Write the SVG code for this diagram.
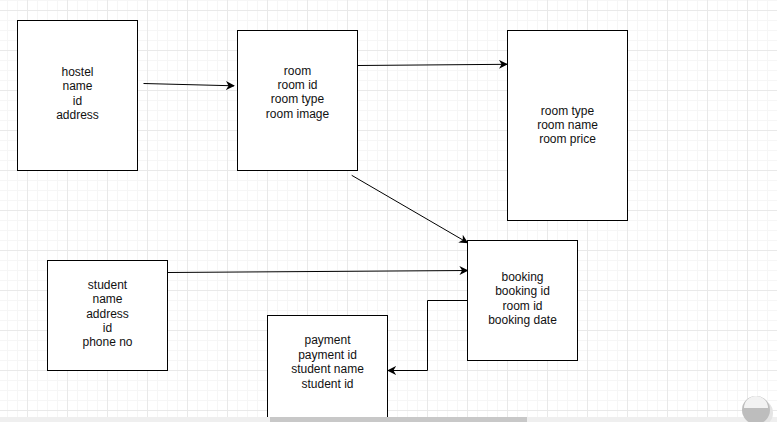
<svg xmlns="http://www.w3.org/2000/svg" width="777" height="422" viewBox="0 0 777 422">
  <defs>
    <pattern id="minor" x="7" y="0" width="10" height="10" patternUnits="userSpaceOnUse">
      <path d="M0.5 0 V10 M0 0.5 H10" fill="none" stroke="#f6f6f6" stroke-width="1"/>
    </pattern>
    <pattern id="major" x="27" y="10" width="40" height="40" patternUnits="userSpaceOnUse">
      <path d="M0.5 0 V40 M0 0.5 H40" fill="none" stroke="#e9e9e9" stroke-width="1"/>
    </pattern>
    <marker id="arrow" viewBox="0 0 10 10" refX="9" refY="5" markerWidth="9" markerHeight="9" markerUnits="userSpaceOnUse" orient="auto">
      <path d="M0 0 L10 5 L0 10 L3 5 Z" fill="#000"/>
    </marker>
  </defs>
  <style>
    .box { fill: #fff; stroke: #000; stroke-width: 1; }
    .lbl { font-family: "Liberation Sans", Arial, sans-serif; font-size: 12px; fill: #111; text-anchor: middle; }
    .conn { fill: none; stroke: #000; stroke-width: 1; marker-end: url(#arrow); }
  </style>
  <rect width="777" height="422" fill="#fff"/>
  <rect width="777" height="422" fill="url(#minor)"/>
  <rect width="777" height="422" fill="url(#major)"/>

  <g id="hostel">
    <rect class="box" x="17.5" y="20.5" width="120" height="150"/>
    <text class="lbl"><tspan x="77.5" y="76">hostel</tspan><tspan x="77.5" y="90.4">name</tspan><tspan x="77.5" y="104.8">id</tspan><tspan x="77.5" y="119.2">address</tspan></text>
  </g>
  <g id="room">
    <rect class="box" x="237.5" y="30.5" width="120" height="140"/>
    <text class="lbl"><tspan x="297.5" y="74.5">room</tspan><tspan x="297.5" y="88.9">room id</tspan><tspan x="297.5" y="103.3">room type</tspan><tspan x="297.5" y="117.7">room image</tspan></text>
  </g>
  <g id="roomtype">
    <rect class="box" x="507.5" y="30.5" width="120" height="190"/>
    <text class="lbl"><tspan x="567.5" y="114.5">room type</tspan><tspan x="567.5" y="128.9">room name</tspan><tspan x="567.5" y="143.3">room price</tspan></text>
  </g>
  <g id="booking">
    <rect class="box" x="467.5" y="240.5" width="110" height="120"/>
    <text class="lbl"><tspan x="522.5" y="281">booking</tspan><tspan x="522.5" y="295.4">booking id</tspan><tspan x="522.5" y="309.8">room id</tspan><tspan x="522.5" y="324.2">booking date</tspan></text>
  </g>
  <g id="student">
    <rect class="box" x="47.5" y="260.5" width="120" height="110"/>
    <text class="lbl"><tspan x="107.5" y="288.7">student</tspan><tspan x="107.5" y="303.1">name</tspan><tspan x="107.5" y="317.5">address</tspan><tspan x="107.5" y="331.9">id</tspan><tspan x="107.5" y="346.3">phone no</tspan></text>
  </g>
  <g id="payment">
    <rect class="box" x="267.5" y="315.5" width="120" height="120"/>
    <text class="lbl"><tspan x="327.5" y="344.3">payment</tspan><tspan x="327.5" y="358.7">payment id</tspan><tspan x="327.5" y="373.1">student name</tspan><tspan x="327.5" y="387.5">student id</tspan></text>
  </g>

  <g id="connectors">
    <path class="conn" d="M143.5 83.5 L234 85.8"/>
    <path class="conn" d="M357.7 65.5 L507 64.3"/>
    <path class="conn" d="M351.7 175.3 L467.5 242.7"/>
    <path class="conn" d="M167.7 272.5 L467.5 270.5"/>
    <path class="conn" d="M467.5 300.5 H427.5 V370.5 H388"/>
  </g>

  <g id="scrollbar">
    <rect x="0" y="417" width="777" height="5" fill="#efefef"/>
    <rect x="270" y="417" width="257" height="5" fill="#c8c8c8"/>
  </g>
  <g id="zoom-icon">
    <circle cx="759" cy="413" r="14" fill="#e4e4e4"/>
    <circle cx="756" cy="410" r="14" fill="#bdbdbd"/>
    <path d="M744 408 A12 12 0 0 1 768 408 Z" fill="#f2f2f2"/>
  </g>
</svg>
